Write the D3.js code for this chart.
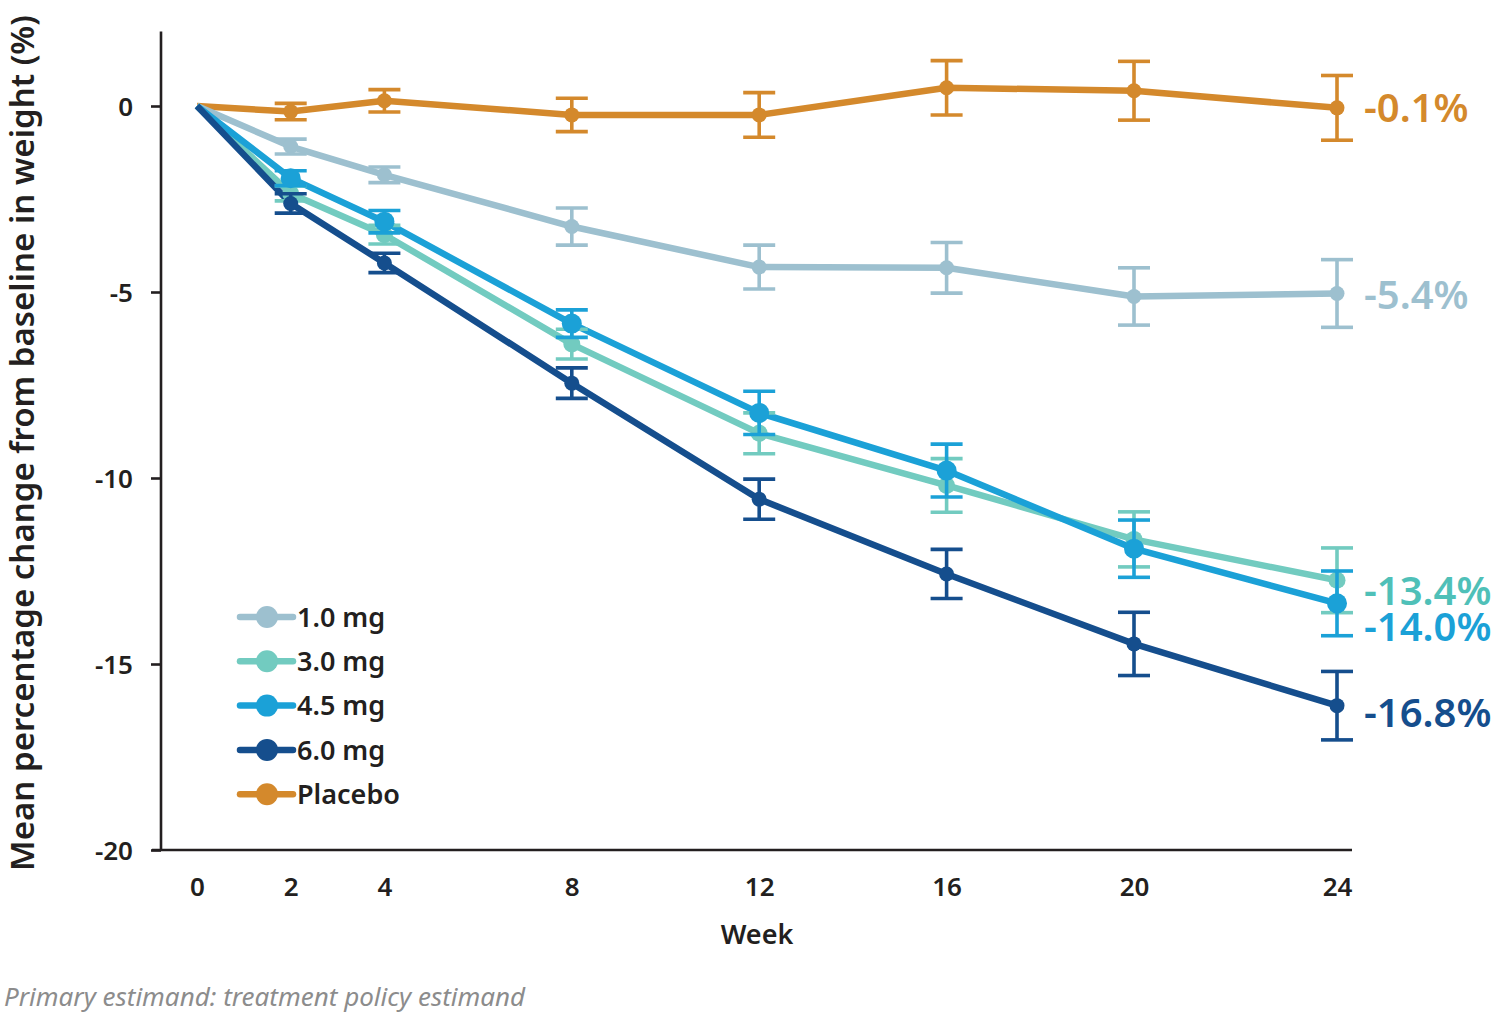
<!DOCTYPE html>
<html>
<head>
<meta charset="utf-8">
<script src="https://cdn.jsdelivr.net/npm/d3@7"></script>
<style>
  html, body { margin: 0; padding: 0; background: #fff; }
  svg { display: block; font-family: "Noto Sans", "Open Sans", sans-serif; }
</style>
</head>
<body>
<svg id="chart" width="1497" height="1013"></svg>
<script>
// ---------- data ----------
const weeks = [0, 2, 4, 8, 12, 16, 20, 24];
const yTicks = [0, -5, -10, -15, -20];

const placebo    = [0, -0.15, 0.14, -0.24, -0.24, 0.49, 0.41, -0.05];
const placeboErr = [0, 0.22, 0.30, 0.45, 0.60, 0.73, 0.79, 0.87];

const dose10     = [0, -1.09, -1.85, -3.24, -4.33, -4.35, -5.12, -5.04];
const dose10Err  = [0, 0.20, 0.21, 0.50, 0.59, 0.68, 0.77, 0.91];

const dose30     = [0, -2.35, -3.46, -6.40, -8.80, -10.20, -11.65, -12.75];
const dose30Err  = [0, 0.20, 0.25, 0.40, 0.55, 0.72, 0.74, 0.87];

const dose45     = [0, -1.94, -3.11, -5.85, -8.25, -9.80, -11.90, -13.37];
const dose45Err  = [0, 0.20, 0.30, 0.37, 0.58, 0.71, 0.77, 0.87];

const dose60     = [0, -2.62, -4.22, -7.45, -10.57, -12.58, -14.46, -16.12];
const dose60Err  = [0, 0.26, 0.26, 0.41, 0.54, 0.66, 0.85, 0.92];

const seriesNames = ["1.0 mg", "3.0 mg", "4.5 mg", "6.0 mg", "Placebo"];
const endLabels   = ["-5.4%", "-13.4%", "-14.0%", "-16.8%", "-0.1%"];

const xTitle = "Week";
const yTitle = "Mean percentage change from baseline in weight (%)";
const footnote = "Primary estimand: treatment policy estimand";

// ---------- styles ----------
const styles = {
  "1.0 mg":  { color: "#9DC0CF", label: "#9DC0CF", r: 7.5, dy: 1 },
  "3.0 mg":  { color: "#72CBC0", label: "#4FC0B8", r: 8.5, dy: 10 },
  "4.5 mg":  { color: "#1BA1D7", label: "#1BA1D7", r: 10, dy: 23 },
  "6.0 mg":  { color: "#154E8D", label: "#154E8D", r: 7.5, dy: 7 },
  "Placebo": { color: "#D4892C", label: "#D4892C", r: 7.5, dy: 0 }
};

const series = [
  { name: seriesNames[0], values: dose10,  err: dose10Err,  end: endLabels[0] },
  { name: seriesNames[1], values: dose30,  err: dose30Err,  end: endLabels[1] },
  { name: seriesNames[2], values: dose45,  err: dose45Err,  end: endLabels[2] },
  { name: seriesNames[3], values: dose60,  err: dose60Err,  end: endLabels[3] },
  { name: seriesNames[4], values: placebo, err: placeboErr, end: endLabels[4] }
];

// ---------- scales ----------
const svg = d3.select("#chart");
const x = d3.scaleLinear().domain([0, 20, 24]).range([197, 1134, 1337]);
const y = d3.scaleLinear().domain([-20, 2]).range([850, 31.6]);
const axisColor = "#231F20";
const fmt = d => String(d).replace("\u2212", "-");

// axes
const yAxisG = svg.append("g").attr("transform", "translate(161,0)")
  .call(d3.axisLeft(y).tickValues(yTicks).tickSize(10).tickPadding(18).tickFormat(fmt));
yAxisG.select(".domain").attr("stroke", axisColor).attr("stroke-width", 2.6).attr("d", `M0,${y(2)}V${y(-20)}`);
yAxisG.selectAll(".tick line").attr("stroke", axisColor).attr("stroke-width", 2.6);
yAxisG.selectAll(".tick text").attr("fill", axisColor).attr("font-size", 26).attr("font-weight", 600)
  .attr("font-family", "'Noto Sans', sans-serif").attr("dy", "0.35em");

const xAxisG = svg.append("g").attr("transform", `translate(0,${y(-20)})`)
  .call(d3.axisBottom(x).tickValues(weeks).tickSize(0).tickPadding(28).tickFormat(fmt));
xAxisG.select(".domain").attr("stroke", axisColor).attr("stroke-width", 2.6).attr("d", "M152,0H1352");
xAxisG.selectAll(".tick text").attr("fill", axisColor).attr("font-size", 26).attr("font-weight", 600)
  .attr("font-family", "'Noto Sans', sans-serif");

// titles
svg.append("text").attr("x", 757).attr("y", 944).attr("text-anchor", "middle")
  .attr("fill", axisColor).attr("font-size", 27).attr("font-weight", 600).text(xTitle);
svg.append("text").attr("transform", `translate(34,${443}) rotate(-90)`).attr("text-anchor", "middle")
  .attr("fill", axisColor).attr("font-size", 33).attr("font-weight", 600).text(yTitle);
svg.append("text").attr("x", 4).attr("y", 1006).attr("fill", "#8C8C8C")
  .attr("font-size", 26).attr("font-style", "italic").text(footnote);

// lines
const line = d3.line().x((d, i) => x(weeks[i])).y(d => y(d));
const drawOrder = [4, 0, 1, 2, 3];
drawOrder.forEach(k => {
  const s = series[k];
  svg.append("path").datum(s.values).attr("d", line)
    .attr("fill", "none").attr("stroke", styles[s.name].color)
    .attr("stroke-width", 6.5).attr("stroke-linejoin", "round");
});

// error bars + markers
drawOrder.forEach(k => {
  const s = series[k];
  const st = styles[s.name];
  const pts = s.values.map((v, i) => ({ w: weeks[i], v, e: s.err[i] })).filter(d => d.w > 0);
  const g = svg.append("g").attr("stroke", st.color).attr("stroke-width", 3.6);
  pts.forEach(d => {
    const cx = x(d.w);
    g.append("line").attr("x1", cx).attr("x2", cx).attr("y1", y(d.v + d.e)).attr("y2", y(d.v - d.e));
    g.append("line").attr("x1", cx - 16).attr("x2", cx + 16).attr("y1", y(d.v + d.e)).attr("y2", y(d.v + d.e));
    g.append("line").attr("x1", cx - 16).attr("x2", cx + 16).attr("y1", y(d.v - d.e)).attr("y2", y(d.v - d.e));
  });
  svg.append("g").selectAll("circle").data(pts).join("circle")
    .attr("cx", d => x(d.w)).attr("cy", d => y(d.v)).attr("r", st.r).attr("fill", st.color);
});

// end labels
series.forEach(s => {
  const st = styles[s.name];
  const last = s.values[s.values.length - 1];
  svg.append("text").attr("x", 1364).attr("y", y(last) + st.dy).attr("dy", "0.36em")
    .attr("fill", st.label).attr("font-size", 40).attr("font-weight", 600)
    .attr("textLength", null).text(s.end);
});

// legend
const legend = svg.append("g").attr("transform", "translate(240,617)");
series.forEach((s, i) => {
  const st = styles[s.name];
  const g = legend.append("g").attr("transform", `translate(0,${i * 44.3})`);
  g.append("line").attr("x1", 0).attr("x2", 53).attr("y1", 0).attr("y2", 0)
    .attr("stroke", st.color).attr("stroke-width", 6.5).attr("stroke-linecap", "round");
  g.append("circle").attr("cx", 27).attr("cy", 0).attr("r", 11).attr("fill", st.color);
  g.append("text").attr("x", 57).attr("y", 0).attr("dy", "0.36em").attr("fill", axisColor)
    .attr("font-size", 27).attr("font-weight", 600).text(s.name);
});
</script>
</body>
</html>
